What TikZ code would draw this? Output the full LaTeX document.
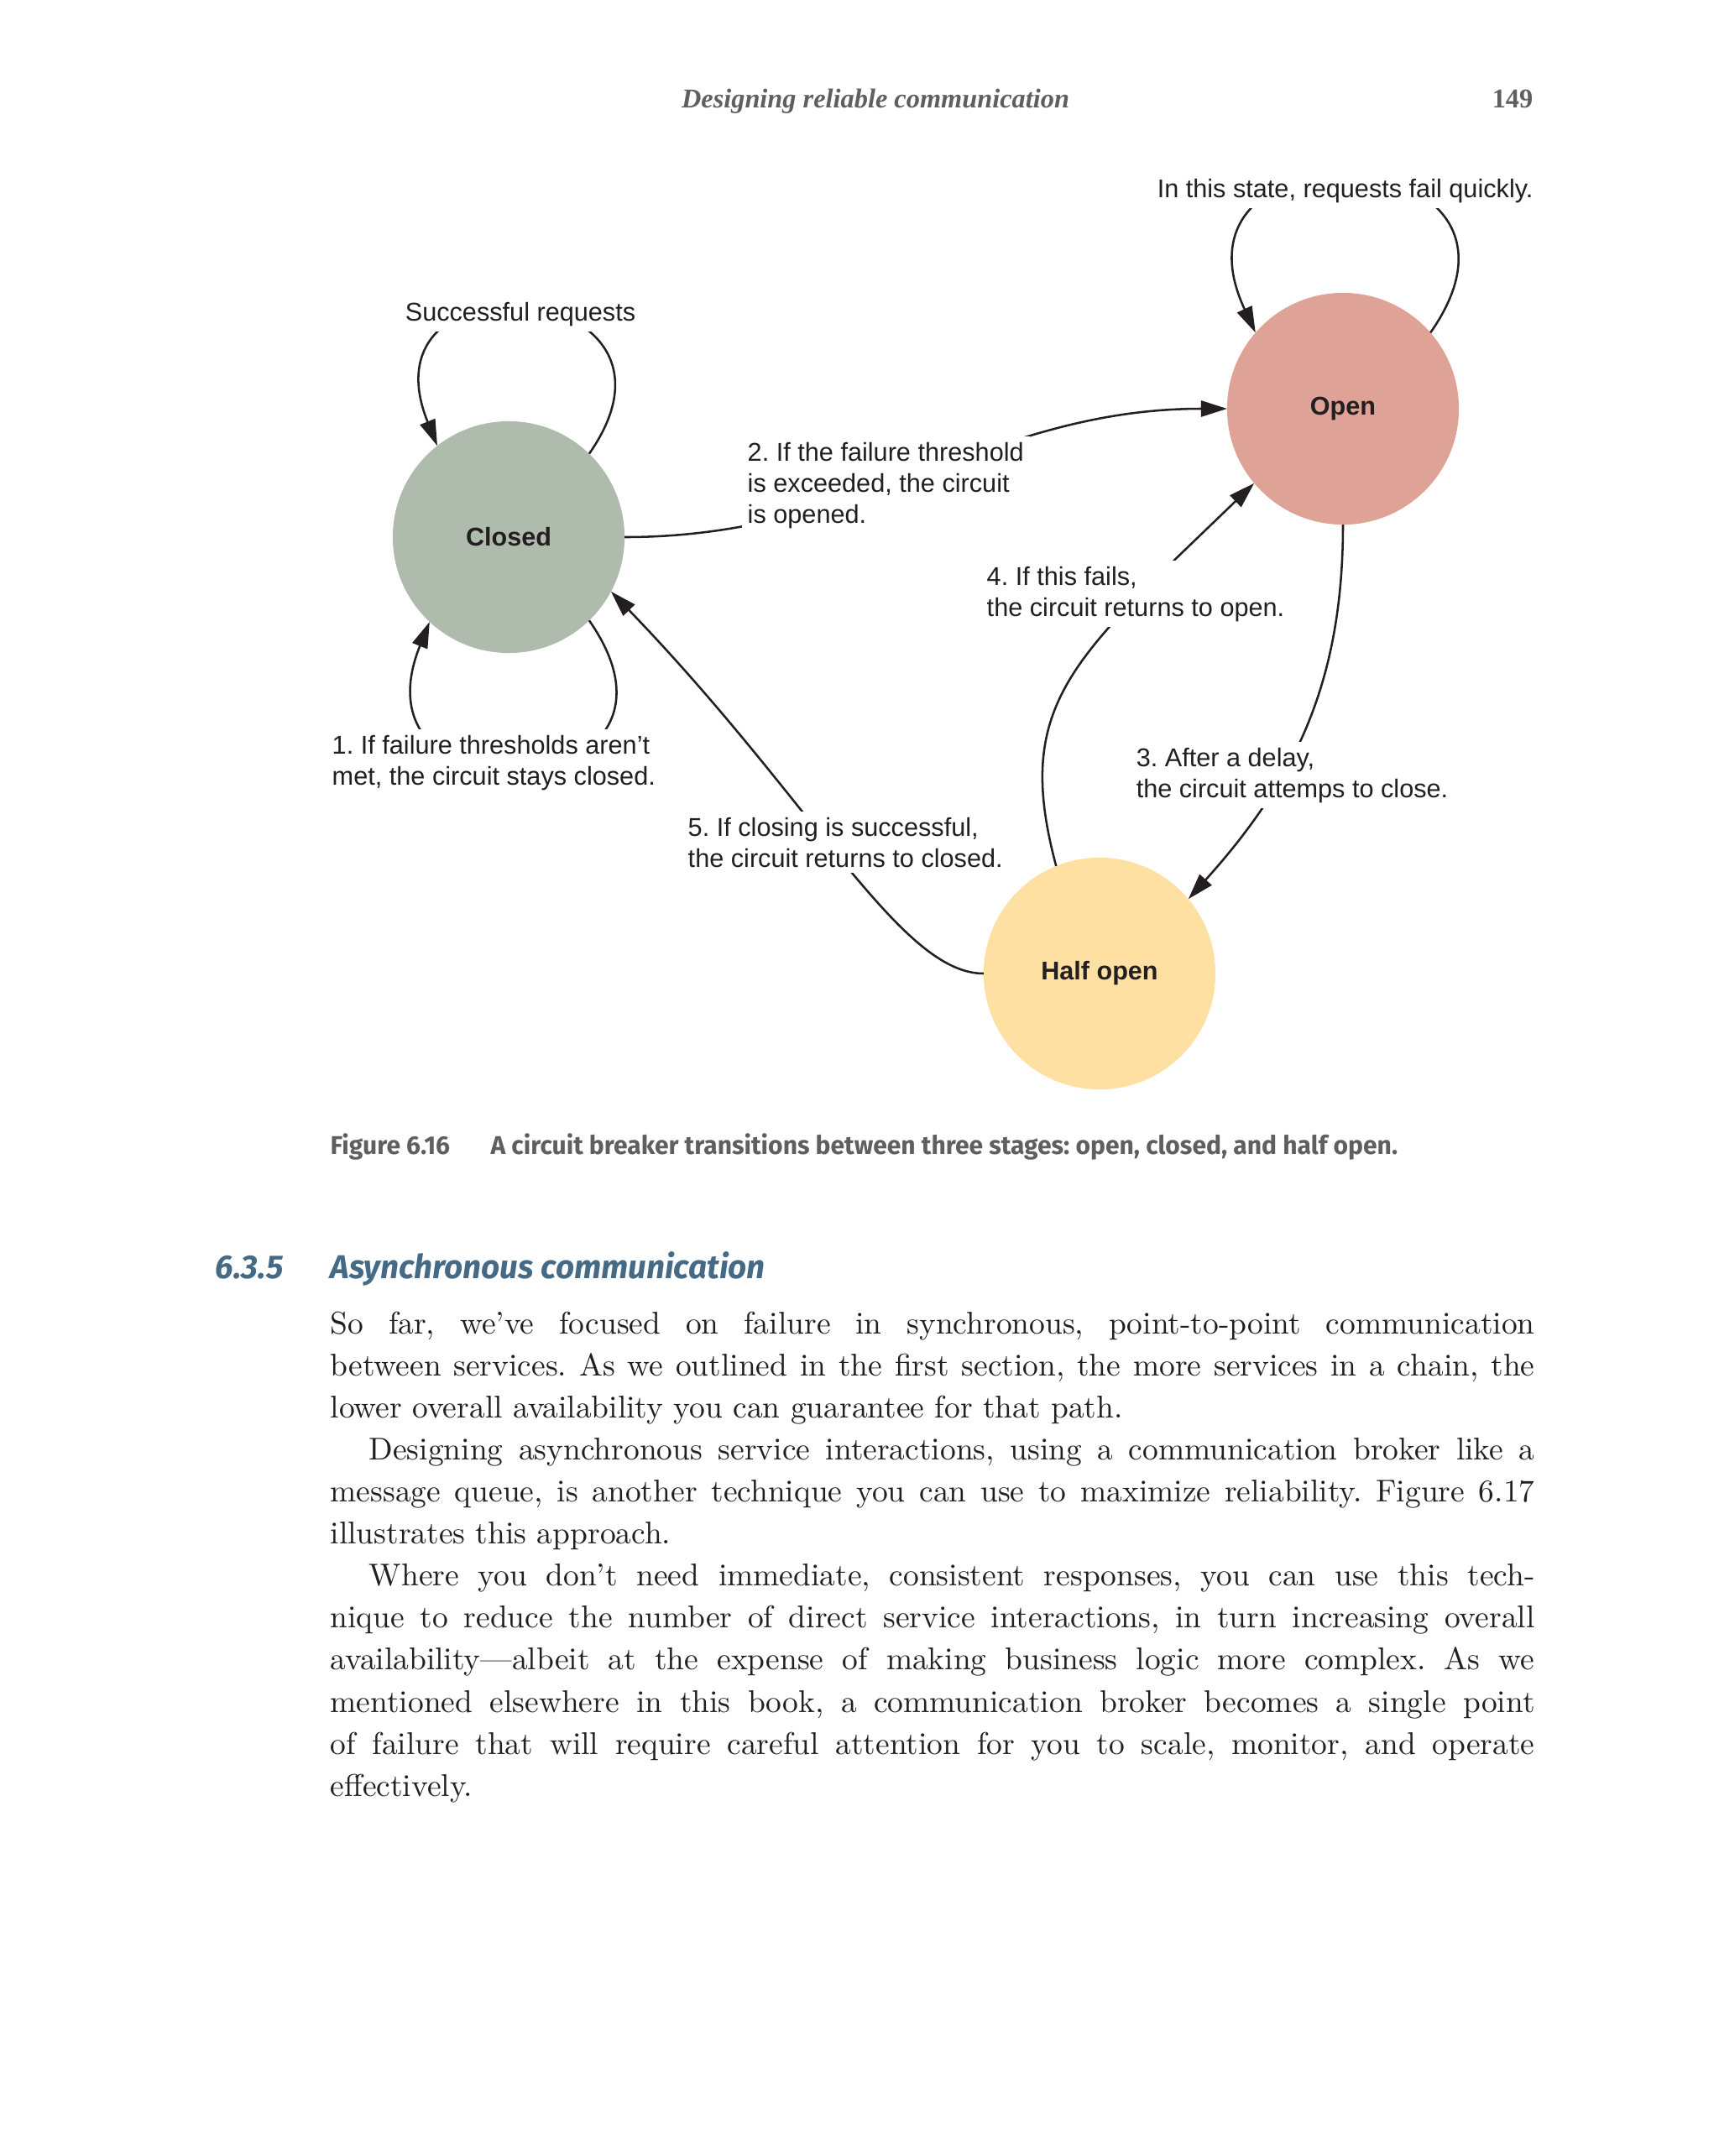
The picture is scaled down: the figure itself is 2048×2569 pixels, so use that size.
\documentclass[tikz,border=0pt]{standalone}
\usepackage{fontspec}
\usetikzlibrary{arrows.meta}
\newfontfamily\labelfont{Liberation Sans}
\newfontfamily\capfont[FakeStretch=0.982]{Fira Sans}
\newfontfamily\headfont{Liberation Serif}
\definecolor{inkdark}{HTML}{231F20}
\definecolor{closedgreen}{HTML}{AFBCAD}
\definecolor{openred}{HTML}{DFA296}
\definecolor{halfyellow}{HTML}{FEE0A2}
\definecolor{pagegray}{HTML}{5F5F5F}
\definecolor{headblue}{HTML}{456A86}
\frenchspacing

\begin{document}
\begin{tikzpicture}[x=0.01cm,y=-0.01cm,
    state/.style={circle, minimum size=2.76cm, inner sep=0pt, outer sep=0pt,
      text=inkdark, font=\labelfont\bfseries\fontsize{8.7}{10}\selectfont},
    note/.style={fill=white, inner sep=2pt, align=left, anchor=base west, text=inkdark,
      font=\labelfont\fontsize{8.72}{10.5}\selectfont},
    flow/.style={draw=inkdark, line width=0.72pt, -{Triangle[length=0.31cm,width=0.19cm]}}]
  \useasboundingbox (0,0) rectangle (2048,2569);
  \fill[white] (0,0) rectangle (2048,2569);

  \node[anchor=base, inner sep=0pt, text=pagegray,
    font=\headfont\bfseries\itshape\fontsize{9.2}{11}\selectfont] (runhead) at (1043,128)
    {Designing reliable communication};
  \node[anchor=base east, inner sep=0pt, text=pagegray,
    font=\headfont\bfseries\fontsize{9.2}{11}\selectfont] (pageno) at (1827,128) {149};

  \node[state, fill=closedgreen] (closed) at (606,640) {Closed};
  \node[state, fill=openred] (open) at (1600,487) {Open};
  \node[state, fill=halfyellow] (half) at (1310,1160) {Half open};

  \draw[flow] (closed.46) to[out=55,in=112,looseness=3.6] (closed.128);
  \draw[flow] (closed.-46) to[out=-55,in=-112,looseness=3.6] (closed.227);
  \draw[flow] (open.41) to[out=55,in=115,looseness=3.5] (open.139);
  \draw[flow] (closed.0) to[out=0,in=180] (open.180);
  \draw[flow] (open.270) to[out=270,in=48] (half.40);
  \draw[flow] (half.112) to[out=105,in=224,in looseness=1.5] (open.220);
  \draw[flow] (half.180) to[out=180,in=-46,out looseness=0.4,in looseness=1.4] (closed.-28);

  \node[note, anchor=base] (success) at (620,382) {Successful requests};
  \node[note] (failfast) at (1371,235) {In this state, requests fail quickly.};
  \node[note] (step1) at (388,935) {1. If failure thresholds aren’t\\met, the circuit stays closed.};
  \node[note] (step2) at (883,623) {2. If the failure threshold\\is exceeded, the circuit\\is opened.};
  \node[note] (step3) at (1346,950) {3. After a delay,\\the circuit attemps to close.};
  \node[note] (step4) at (1168,734) {4. If this fails,\\the circuit returns to open.};
  \node[note] (step5) at (812,1033) {5. If closing is successful,\\the circuit returns to closed.};

  \node[anchor=base west, inner sep=0pt, text=pagegray,
    font=\capfont\bfseries\fontsize{8.7}{10}\selectfont] (caption) at (393,1375)
    {Figure 6.16\hspace{0.485cm}A circuit breaker transitions between three stages: open, closed, and half open.};

  \node[anchor=base west, inner sep=0pt, text=headblue,
    font=\capfont\bfseries\itshape\fontsize{11.2}{13}\selectfont] (secnum) at (256,1523) {6.3.5};
  \node[anchor=base west, inner sep=0pt, text=headblue,
    font=\capfont\bfseries\itshape\fontsize{11.2}{13}\selectfont] (sectitle) at (393,1523)
    {Asynchronous communication};

  \node[anchor=base west, inner sep=0pt, text width=14.34cm, align=justify, text=inkdark,
    font=\fontsize{10.65}{14.25}\selectfont] (body) at (393,1589)
    {\tolerance=9999 So far, we’ve focused on failure in synchronous, point-to-point communication\linebreak
    between services. As we outlined in the first section, the more services in a chain, the\linebreak
    lower overall availability you can guarantee for that path.\par
    \hspace*{0.46cm}Designing asynchronous service interactions, using a communication broker like a\linebreak
    message queue, is another technique you can use to maximize reliability. Figure 6.17\linebreak
    illustrates this approach.\par
    \hspace*{0.46cm}Where you don’t need immediate, consistent responses, you can use this tech-\linebreak
    nique to reduce the number of direct service interactions, in turn increasing overall\linebreak
    availability—albeit at the expense of making business logic more complex. As we\linebreak
    mentioned elsewhere in this book, a communication broker becomes a single point\linebreak
    of failure that will require careful attention for you to scale, monitor, and operate\linebreak
    effectively.};
\end{tikzpicture}
\end{document}
